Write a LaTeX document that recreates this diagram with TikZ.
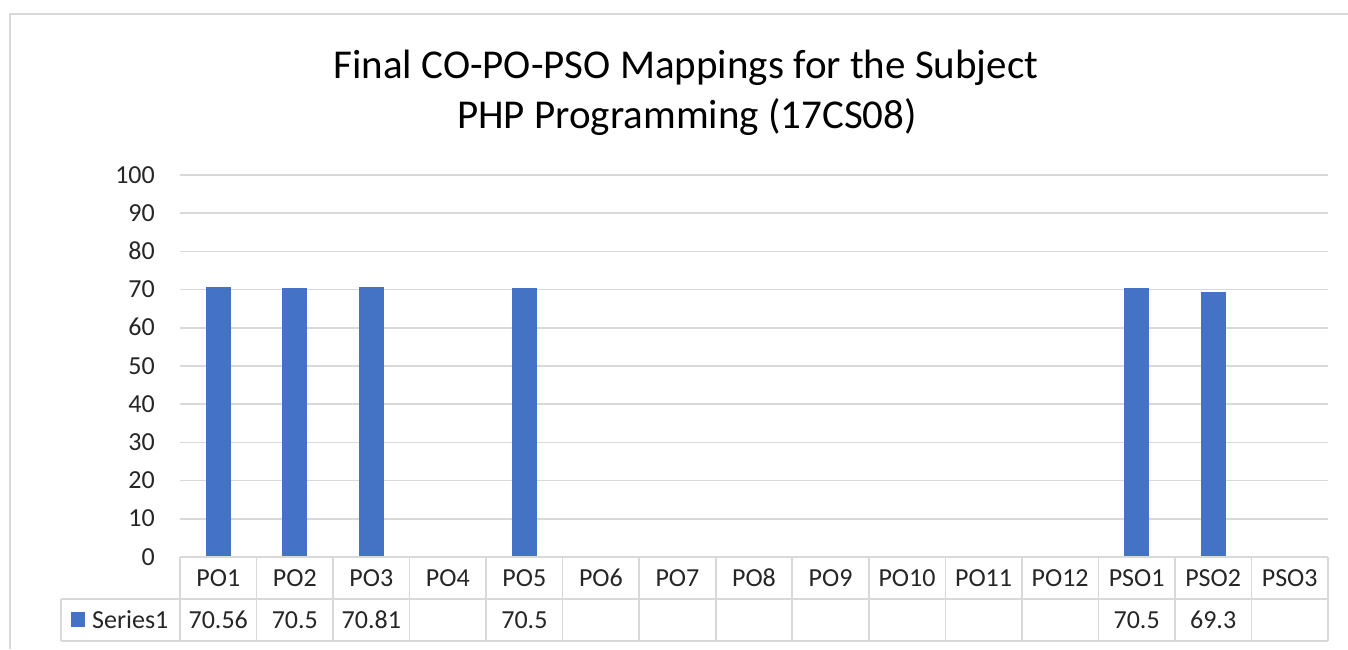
\documentclass[tikz,border=0pt]{standalone}
\usepackage{fontspec}
\setmainfont{Carlito}
\definecolor{barblue}{HTML}{4472C4}
\definecolor{gridgray}{HTML}{D9D9D9}
\definecolor{txt}{HTML}{262626}
\begin{document}
\begin{tikzpicture}[x=1pt,y=-1pt,
  gridline/.style={draw=gridgray, line width=1.6pt},
  lbl/.style={font=\fontsize{26}{30}\selectfont, text=txt, inner sep=0pt},
  ttl/.style={font=\fontsize{41}{48}\selectfont, text=black, inner sep=0pt, anchor=base},
  barfill/.style={fill=barblue}]
\useasboundingbox (0,0) rectangle (1348,649);
\fill[white] (0,0) rectangle (1348,649);
\draw[gridgray, line width=2pt] (10,649) -- (10,14) -- (1348,14);
% title
\node[ttl] (t1) at (686,78) {Final CO-PO-PSO Mappings for the Subject};
\node[ttl] (t2) at (687,128) {PHP Programming (17CS08)};
% grid and y labels
\foreach \v in {0,10,...,100}{
  \pgfmathsetmacro{\yy}{557-\v*3.82}
  \draw[gridline] (180,\yy) -- (1328,\yy);
  \node[lbl, anchor=base east] (y\v) at (155,\yy+8) {\v};
}
% bars
\foreach \i/\val in {1/70.56,2/70.5,3/70.81,5/70.5,13/70.5,14/69.3}{
  \pgfmathsetmacro{\cx}{180+76.53*(\i-0.5)}
  \pgfmathsetmacro{\top}{557-\val*3.82}
  \fill[barfill] (\cx-12.5,\top) rectangle (\cx+12.5,556.2);
}
% table lines
\draw[gridline] (61,599) -- (1328,599);
\draw[gridline] (61,641) -- (1328,641);
\draw[gridline] (61,599) -- (61,641);
\foreach \k in {0,...,15}{
  \pgfmathsetmacro{\xx}{180+76.53*\k}
  \draw[gridline] (\xx,557) -- (\xx,641);
}
% category labels
\foreach \i/\name in {1/PO1,2/PO2,3/PO3,4/PO4,5/PO5,6/PO6,7/PO7,8/PO8,9/PO9,10/PO10,11/PO11,12/PO12,13/PSO1,14/PSO2,15/PSO3}{
  \pgfmathsetmacro{\cx}{180+76.53*(\i-0.5)}
  \node[lbl, anchor=base] (c\i) at (\cx,586) {\name};
}
% values
\foreach \i/\val in {1/70.56,2/70.5,3/70.81,5/70.5,13/70.5,14/69.3}{
  \pgfmathsetmacro{\cx}{180+76.53*(\i-0.5)}
  \node[lbl, anchor=base] (v\i) at (\cx,628) {\val};
}
% legend
\fill[barfill] (71,612) rectangle (85,627);
\node[lbl, anchor=base west] (s1) at (92,628) {Series1};
\end{tikzpicture}
\end{document}
